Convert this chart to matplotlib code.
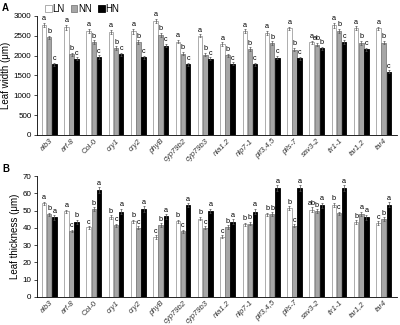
import matplotlib
matplotlib.use("Agg")
import matplotlib.pyplot as plt
from matplotlib.patches import Patch
import numpy as np

# genotypes on the x axis
genotypes = ["alb3", "arf-8", "Col-0", "cry1", "cry2", "phyB", "cyp79b2", "cyp79b3",
             "nia1.2", "nlp7-1", "pif3,4,5", "pils-7", "sav3-2", "tir1-1", "tar1,2", "tar4"]

# A: leaf width (um)
width_LN = [2775, 2710, 2625, 2600, 2615, 2875, 2350, 2500, 2285, 2610, 2575, 2685, 2330, 2765, 2685, 2685]
width_NN = [2460, 2030, 2340, 2185, 2340, 2525, 2050, 2025, 2005, 2165, 2305, 2150, 2275, 2615, 2325, 2325]
width_HN = [1780, 1925, 1965, 2030, 1955, 2250, 1780, 1925, 1790, 1780, 1950, 1930, 2180, 2340, 2155, 1590]
width_err_LN = [50, 60, 50, 55, 60, 60, 45, 40, 45, 50, 50, 45, 50, 60, 50, 45]
width_err_NN = [45, 40, 50, 45, 45, 50, 40, 40, 40, 45, 50, 45, 45, 55, 55, 45]
width_err_HN = [40, 35, 40, 45, 45, 45, 40, 35, 40, 40, 40, 40, 40, 45, 45, 40]
width_letters_LN = ["a"] * 16
width_letters_NN = ["b"] * 12 + ["ab"] + ["b"] * 3
width_letters_HN = ["c"] * 12 + ["b"] + ["c"] * 3

# B: leaf thickness (um)
thick_LN = [54.2, 49.5, 40.2, 46.4, 43.7, 34.8, 43.8, 45.3, 34.8, 42.0, 47.8, 51.4, 50.6, 53.4, 43.4, 42.8]
thick_NN = [47.8, 38.2, 51.0, 41.5, 40.0, 41.6, 38.0, 40.0, 40.5, 42.4, 48.0, 41.2, 49.6, 48.4, 48.0, 45.2]
thick_HN = [46.0, 43.6, 62.0, 49.4, 50.8, 46.6, 53.2, 49.8, 43.6, 49.4, 63.0, 63.0, 53.0, 63.0, 46.2, 53.4]
thick_err_LN = [1.0, 1.0, 0.8, 1.0, 1.0, 1.0, 0.8, 1.0, 0.8, 0.8, 1.0, 1.0, 1.2, 1.2, 1.0, 1.0]
thick_err_NN = [1.0, 0.8, 1.0, 0.8, 0.8, 1.0, 0.8, 0.8, 1.0, 1.0, 1.0, 1.0, 1.2, 1.0, 1.2, 1.0]
thick_err_HN = [1.2, 1.2, 1.6, 1.6, 1.6, 1.4, 1.2, 1.4, 1.4, 1.6, 1.8, 1.6, 1.6, 1.8, 1.4, 1.4]
thick_letters_LN = ["a", "a", "c", "b", "b", "c", "b", "b", "c", "b", "b", "b", "ab", "b", "b", "c"]
thick_letters_NN = ["b", "c", "b", "c", "c", "b", "c", "c", "b", "b", "b", "c", "b", "c", "a", "b"]
thick_letters_HN = ["a", "b", "a", "a", "a", "a", "a", "a", "a", "a", "a", "a", "a", "a", "a", "a"]

plt.rcParams["font.family"] = "Liberation Sans"

fig = plt.figure(figsize=(4.0, 3.25), dpi=100)
axA = fig.add_axes([0.0925, 0.585, 0.9, 0.366])
axB = fig.add_axes([0.0925, 0.087, 0.9, 0.371])

colors = ["white", "#a6a6a6", "black"]
edges = ["#a0a0a0", "#7f7f7f", "black"]
offsets = [-0.23, 0.0, 0.23]
bw = 0.2


def draw_panel(ax, series, errs, letters, ymax, step, ylabel, pad):
    x = np.arange(len(genotypes))
    for k in range(3):
        ax.bar(x + offsets[k], series[k], bw, color=colors[k], edgecolor=edges[k], linewidth=0.6,
               yerr=errs[k], error_kw=dict(ecolor="#555555", elinewidth=0.5, capsize=1.0, capthick=0.5))
        for i in range(len(x)):
            ax.text(x[i] + offsets[k], series[k][i] + errs[k][i] + pad, letters[k][i],
                    ha="center", va="bottom", fontsize=5.2)
    ax.set_xlim(-0.55, 15.6)
    ax.set_ylim(0, ymax)
    ax.set_yticks(np.arange(0, ymax + 1, step))
    ax.tick_params(axis="y", labelsize=5.8, length=2, width=0.5, pad=2)
    ax.tick_params(axis="x", labelsize=5.5, length=0, pad=2, labelcolor="#333333")
    ax.set_xticks(x)
    ax.set_xticklabels(genotypes, rotation=45, ha="right", rotation_mode="anchor")
    for lab in ax.get_xticklabels():
        if lab.get_text() != "Col-0":
            lab.set_style("italic")
    ax.spines["top"].set_visible(False)
    ax.spines["right"].set_visible(False)
    ax.spines["left"].set_linewidth(0.6)
    ax.spines["bottom"].set_linewidth(0.6)
    ax.set_ylabel(ylabel, fontsize=7, labelpad=2)


draw_panel(axA, [width_LN, width_NN, width_HN], [width_err_LN, width_err_NN, width_err_HN],
           [width_letters_LN, width_letters_NN, width_letters_HN], 3000, 500, "Leaf width (\u03bcm)", 15)
draw_panel(axB, [thick_LN, thick_NN, thick_HN], [thick_err_LN, thick_err_NN, thick_err_HN],
           [thick_letters_LN, thick_letters_NN, thick_letters_HN], 70, 10, "Leaf thickness (\u03bcm)", 0.3)

fig.text(0.005, 0.99, "A", fontsize=7, fontweight="bold", va="top")
fig.text(0.005, 0.495, "B", fontsize=7, fontweight="bold", va="top")

handles = [Patch(facecolor=colors[k], edgecolor=edges[k], linewidth=0.6) for k in range(3)]
fig.legend(handles, ["LN", "NN", "HN"], loc="upper left", bbox_to_anchor=(0.09, 1.015), ncol=3,
           frameon=False, fontsize=7, handlelength=0.7, handleheight=0.7, handletextpad=0.1,
           columnspacing=0.6)

fig.savefig("out.png", dpi=100)
